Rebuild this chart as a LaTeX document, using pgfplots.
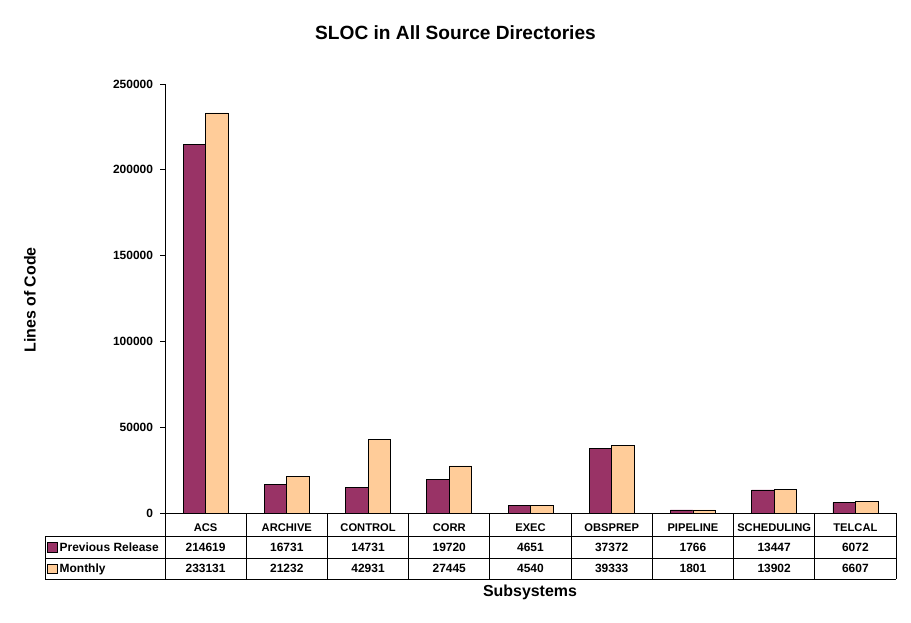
\documentclass[border=0pt]{standalone}
\usepackage{pgfplots}
\pgfplotsset{compat=1.18}
\usepackage{fontspec}
\setmainfont{Liberation Sans}
\definecolor{plum}{HTML}{993366}
\definecolor{peach}{HTML}{FFCC99}
\newcommand\tf{\fontsize{12}{14}\selectfont\bfseries}
\newcommand\cf{\fontsize{11.2}{13}\selectfont\bfseries}
\begin{document}
\begin{tikzpicture}[x=1bp,y=1bp]
\path[use as bounding box] (0,0) rectangle (911,-623);
\begin{axis}[
  at={(165bp,-513bp)}, anchor=south west,
  scale only axis, width=731bp, height=429bp,
  xmin=-0.5, xmax=8.5, ymin=0, ymax=250000,
  axis lines*=left,
  ybar=0pt, bar width=22.5bp,
  xtick={0,...,8},
  xticklabels={ACS,ARCHIVE,CONTROL,CORR,EXEC,OBSPREP,PIPELINE,SCHEDULING,TELCAL},
  xtick style={draw=none},
  xticklabel style={font=\cf, anchor=center, yshift=-10bp},
  ytick={0,50000,100000,150000,200000,250000},
  yticklabels={0,50000,100000,150000,200000,250000},
  scaled y ticks=false,
  yticklabel style={font=\tf, xshift=-3.5bp},
  tick align=outside, major tick length=5bp,
  axis line style={black, line width=0.8bp},
  tick style={black, line width=0.8bp},
  clip=false
]
\addplot[fill=plum, draw=black, line width=0.8bp] coordinates {(0,214619) (1,16731) (2,14731) (3,19720) (4,4651) (5,37372) (6,1766) (7,13447) (8,6072)};
\addplot[fill=peach, draw=black, line width=0.8bp] coordinates {(0,233131) (1,21232) (2,42931) (3,27445) (4,4540) (5,39333) (6,1801) (7,13902) (8,6607)};
\end{axis}
% data table
\foreach \k in {0,...,9} \draw[line width=0.8bp] (165+\k*81.2222,-513) -- (165+\k*81.2222,-579);
\draw[line width=0.8bp] (45,-536) -- (896,-536);
\draw[line width=0.8bp] (45,-558) -- (896,-558);
\draw[line width=0.8bp] (45,-579) -- (896,-579);
\draw[line width=0.8bp] (45,-536) -- (45,-579);
\foreach \v [count=\i from 0] in {214619,16731,14731,19720,4651,37372,1766,13447,6072}
  \node[font=\tf] at (205.6+\i*81.2222,-547) {\v};
\foreach \v [count=\i from 0] in {233131,21232,42931,27445,4540,39333,1801,13902,6607}
  \node[font=\tf] at (205.6+\i*81.2222,-568.5) {\v};
\draw[fill=plum, line width=0.6bp] (47.5,-542.5) rectangle (57,-552);
\draw[fill=peach, line width=0.6bp] (47.5,-564) rectangle (57,-573.5);
\node[font=\tf, anchor=base west, inner sep=0pt] at (59.5,-551.3) {Previous Release};
\node[font=\tf, anchor=base west, inner sep=0pt] at (59.5,-572.8) {Monthly};
% titles
\node[font=\fontsize{19.2}{22}\selectfont\bfseries] at (455.5,-33) {SLOC in All Source Directories};
\node[font=\fontsize{16}{18}\selectfont\bfseries, rotate=90] at (30,-300) {Lines of Code};
\node[font=\fontsize{16}{18}\selectfont\bfseries] at (530,-592) {Subsystems};
\end{tikzpicture}
\end{document}
